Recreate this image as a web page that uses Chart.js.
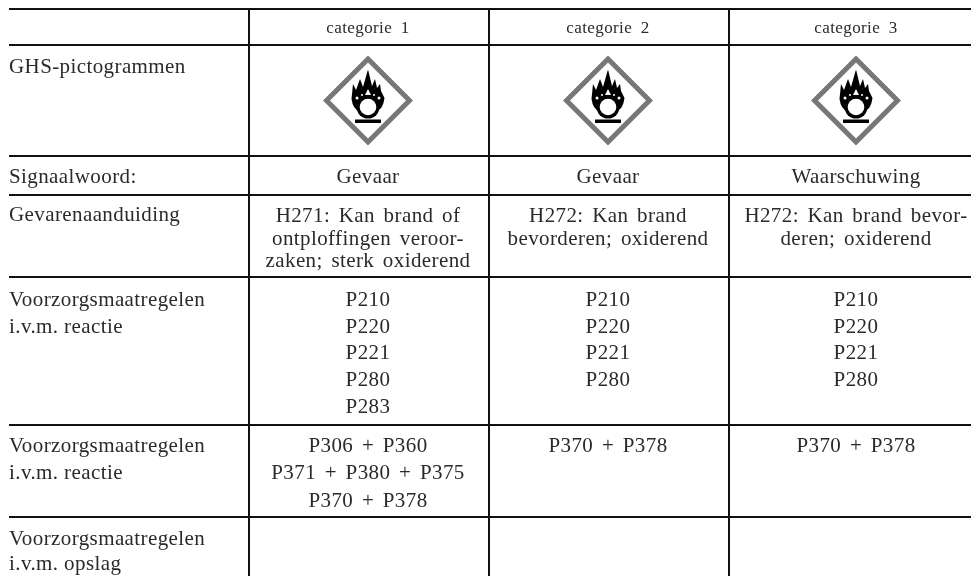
<!DOCTYPE html>
<html lang="nl">
<head>
<meta charset="utf-8">
<title>GHS-indeling</title>
<script src="https://cdn.jsdelivr.net/npm/chart.js@4"></script>
<style>
html, body { margin: 0; padding: 0; background: #fff; overflow: hidden; }
#wrap { width: 971px; height: 576px; }
</style>
</head>
<body>
<div id="wrap"><canvas id="table-chart"></canvas></div>
<script>
// table contents
const categories = ['categorie 1', 'categorie 2', 'categorie 3'];
const rowLabels = [
    ['GHS-pictogrammen'],
    ['Signaalwoord:'],
    ['Gevarenaanduiding'],
    ['Voorzorgsmaatregelen', 'i.v.m. reactie'],
    ['Voorzorgsmaatregelen', 'i.v.m. reactie'],
    ['Voorzorgsmaatregelen', 'i.v.m. opslag']
];
const signalWords = ['Gevaar', 'Gevaar', 'Waarschuwing'];
const hazardLines = [
    ['H271: Kan brand of', 'ontploffingen veroor-', 'zaken; sterk oxiderend'],
    ['H272: Kan brand', 'bevorderen; oxiderend'],
    ['H272: Kan brand bevor-', 'deren; oxiderend']
];
const preventionCodes = [
    ['P210', 'P220', 'P221', 'P280', 'P283'],
    ['P210', 'P220', 'P221', 'P280'],
    ['P210', 'P220', 'P221', 'P280']
];
const responseCodes = [
    ['P306 + P360', 'P371 + P380 + P375', 'P370 + P378'],
    ['P370 + P378'],
    ['P370 + P378']
];

// table geometry, in axis units
const colEdges = [249, 489, 729];
const rowEdges = [9, 45, 156, 195, 277, 425, 517];
const colCentres = [368, 608, 856];
const labelX = 9;

function flameIcon() {
    const c = document.createElement('canvas');
    c.width = 40;
    c.height = 60;
    const g = c.getContext('2d');
    g.translate(20, 41);
    g.fillStyle = '#000';
    g.beginPath();
    g.moveTo(-9, 4);
    g.quadraticCurveTo(-15, 2, -16.5, -8);
    g.lineTo(-15, -23);
    g.lineTo(-12, -17);
    g.lineTo(-8, -28);
    g.lineTo(-5, -20);
    g.lineTo(0, -37.5);
    g.lineTo(4, -21);
    g.lineTo(7, -28);
    g.lineTo(9, -19);
    g.lineTo(12, -23);
    g.lineTo(13, -16);
    g.lineTo(16.5, -9);
    g.quadraticCurveTo(15, 2, 9, 4);
    g.closePath();
    g.fill();
    // white specks in the flame
    g.fillStyle = '#fff';
    g.beginPath();
    g.moveTo(0, -18);
    g.lineTo(-3, -12);
    g.lineTo(3, -12);
    g.closePath();
    g.fill();
    [[-11, -9, 1.5], [11, -9, 1.5], [-6, -12, 1], [6, -12, 1]].forEach(([x, y, r]) => {
        g.beginPath();
        g.arc(x, y, r, 0, Math.PI * 2);
        g.fill();
    });
    // ring
    g.beginPath();
    g.arc(0, 0, 11.5, 0, Math.PI * 2);
    g.fillStyle = '#000';
    g.fill();
    g.beginPath();
    g.arc(0, 0, 8.3, 0, Math.PI * 2);
    g.fillStyle = '#fff';
    g.fill();
    // base bar
    g.fillStyle = '#000';
    g.fillRect(-13, 12.5, 26, 3.5);
    return c;
}

const textFont = '21px "Liberation Serif"';
const headFont = '17px "Liberation Serif"';
const textColor = '#2a2a2a';

function drawLines(ctx, scales, lines, x, baselines, align) {
    ctx.textAlign = align;
    lines.forEach((line, i) => {
        ctx.fillText(line, scales.x.getPixelForValue(x), scales.y.getPixelForValue(baselines[i]));
    });
}

const tableText = {
    id: 'tableText',
    afterDatasetsDraw(chart) {
        const ctx = chart.ctx;
        const scales = chart.scales;
        ctx.save();
        ctx.fillStyle = textColor;
        ctx.textBaseline = 'alphabetic';
        ctx.letterSpacing = '0.4px';

        ctx.font = headFont;
        ctx.wordSpacing = '4px';
        categories.forEach((c, i) => drawLines(ctx, scales, [c], colCentres[i], [33], 'center'));

        ctx.font = textFont;
        ctx.wordSpacing = '0px';
        const labelRows = [[73], [183], [221], [306, 333], [452, 479], [545, 570]];
        rowLabels.forEach((lines, i) => drawLines(ctx, scales, lines, labelX, labelRows[i], 'left'));

        ctx.wordSpacing = '3px';
        signalWords.forEach((w, i) => drawLines(ctx, scales, [w], colCentres[i], [183], 'center'));
        hazardLines.forEach((l, i) => drawLines(ctx, scales, l, colCentres[i], [222, 245, 267], 'center'));
        preventionCodes.forEach((l, i) => drawLines(ctx, scales, l, colCentres[i], [306, 333, 359, 386, 413], 'center'));
        responseCodes.forEach((l, i) => drawLines(ctx, scales, l, colCentres[i], [452, 479, 507], 'center'));
        ctx.restore();
    }
};

new Chart(document.getElementById('table-chart'), {
    type: 'scatter',
    plugins: [tableText],
    data: {
        datasets: [
            {
                // symbol goes first so it ends up on top (lower order draws last)
                order: 1,
                data: colCentres.map(x => ({ x: x, y: 96 })),
                pointStyle: flameIcon(),
                pointRadius: 20
            },
            {
                order: 2,
                data: colCentres.map(x => ({ x: x, y: 100.5 })),
                pointStyle: 'rectRot',
                pointRadius: 41.5,
                pointBorderWidth: 5,
                pointBorderColor: '#777777',
                pointBackgroundColor: '#ffffff'
            }
        ]
    },
    options: {
        responsive: true,
        maintainAspectRatio: false,
        animation: false,
        events: [],
        layout: { autoPadding: false, padding: { left: 9, top: 9 } },
        plugins: { legend: { display: false }, tooltip: { enabled: false } },
        scales: {
            x: {
                type: 'linear',
                min: 9,
                max: 971,
                afterBuildTicks: s => { s.ticks = colEdges.map(v => ({ value: v })); },
                ticks: { display: false },
                border: { display: false },
                grid: { color: '#111111', lineWidth: 2, drawTicks: false }
            },
            y: {
                type: 'linear',
                min: 9,
                max: 576,
                reverse: true,
                afterBuildTicks: s => { s.ticks = rowEdges.map(v => ({ value: v })); },
                ticks: { display: false },
                border: { display: false },
                grid: { color: '#111111', lineWidth: 2, drawTicks: false }
            }
        }
    }
});
</script>
</body>
</html>
